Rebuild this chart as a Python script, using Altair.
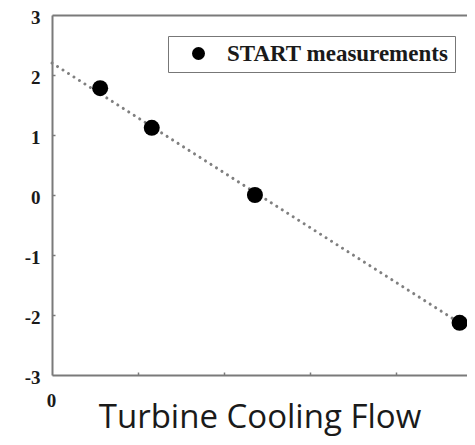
import altair as alt
import pandas as pd

# measured points
flow = [0.56, 1.16, 2.36, 4.74]
delta = [1.78, 1.12, 0.0, -2.13]
series = ["START measurements"] * 4

# dotted trend line (end points)
fit_flow = [0.0, 4.826]
fit_delta = [2.2, -2.21]

x_ticks = [0, 1, 2, 3, 4]
y_ticks = [-3, -2, -1, 0, 1, 2, 3]

pts = pd.DataFrame({"flow": flow, "delta": delta, "series": series})
fit = pd.DataFrame({"flow": fit_flow, "delta": fit_delta})

xscale = alt.Scale(domain=[0, 4.826], nice=False, zero=False)
yscale = alt.Scale(domain=[-3, 3], nice=False)

serif = "Liberation Serif"
axis_gray = "#7a7a7a"

line = alt.Chart(fit).mark_line(
    color="#808080", strokeWidth=3, strokeDash=[0.1, 6.4], strokeCap="round"
).encode(
    x=alt.X("flow:Q", scale=xscale,
            axis=alt.Axis(orient="top", labels=False, ticks=False, domain=True,
                          domainColor=axis_gray, domainWidth=2, grid=False, title=None)),
    y=alt.Y("delta:Q", scale=yscale, axis=None),
)

points = alt.Chart(pts).mark_circle(size=256, opacity=1, color="black").encode(
    x=alt.X("flow:Q", scale=xscale,
            axis=alt.Axis(orient="bottom", values=x_ticks, grid=False,
                          ticks=False, tickSize=0, domain=True,
                          domainColor=axis_gray, domainWidth=2,
                          labelExpr="datum.value == 0 ? '0' : ''",
                          labelFont=serif, labelFontWeight="bold", labelFontSize=19,
                          labelColor="#1a1a1a", labelPadding=16, labelAlign="center",
                          labelFlush=False, labelOffset=-1,
                          title="Turbine Cooling Flow", titleFont="Open Sans",
                          titleFontSize=33, titleFontWeight="normal",
                          titleColor="#1a1a1a", titleBaseline="alphabetic",
                          titleY=52)),
    y=alt.Y("delta:Q", scale=yscale,
            axis=alt.Axis(orient="left", values=y_ticks, grid=False,
                          ticks=False, tickSize=0, domain=True,
                          domainColor=axis_gray, domainWidth=2,
                          labelExpr="replace(datum.label, '\u2212', '-')",
                          labelFont=serif, labelFontWeight="bold", labelFontSize=19,
                          labelColor="#1a1a1a", labelPadding=12, labelFlush=False,
                          labelOffset=2, title=None)),
    color=alt.Color("series:N", scale=alt.Scale(range=["black"]),
                    legend=alt.Legend(orient="none", legendX=116, legendY=21,
                                      title=None, fillColor="white",
                                      strokeColor="#777777",
                                      padding=6, symbolType="circle",
                                      symbolSize=169, symbolFillColor="black",
                                      symbolStrokeWidth=0, symbolOffset=13,
                                      labelOffset=17, labelFont=serif,
                                      labelFontWeight="bold", labelFontSize=23,
                                      labelColor="#1a1a1a", labelLimit=400,
                                      labelExpr="datum.label + '\u2003\u2003'")),
)

ticks = alt.Chart(pts).mark_circle(opacity=0).encode(
    x=alt.X("flow:Q", scale=xscale,
            axis=alt.Axis(orient="bottom", values=x_ticks[1:], offset=-3, tickSize=3,
                          tickColor=axis_gray, tickWidth=1.5, domain=False,
                          labels=False, grid=False, title=None)),
    y=alt.Y("delta:Q", scale=yscale,
            axis=alt.Axis(orient="left", values=y_ticks[1:-1], offset=-3, tickSize=3,
                          tickColor=axis_gray, tickWidth=1.5, domain=False,
                          labels=False, grid=False, title=None)),
)

chart = alt.layer(line, ticks, points).resolve_axis(
    x="independent", y="independent"
).properties(
    width=415, height=360,
    autosize=alt.AutoSizeParams(type="none"),
    padding={"left": 44, "top": 7, "right": 0, "bottom": 62},
).configure_view(stroke=None).configure_legend(strokeWidth=2).configure(background="white")

chart.save("out.html", embed_options={"renderer": "svg", "actions": False})
